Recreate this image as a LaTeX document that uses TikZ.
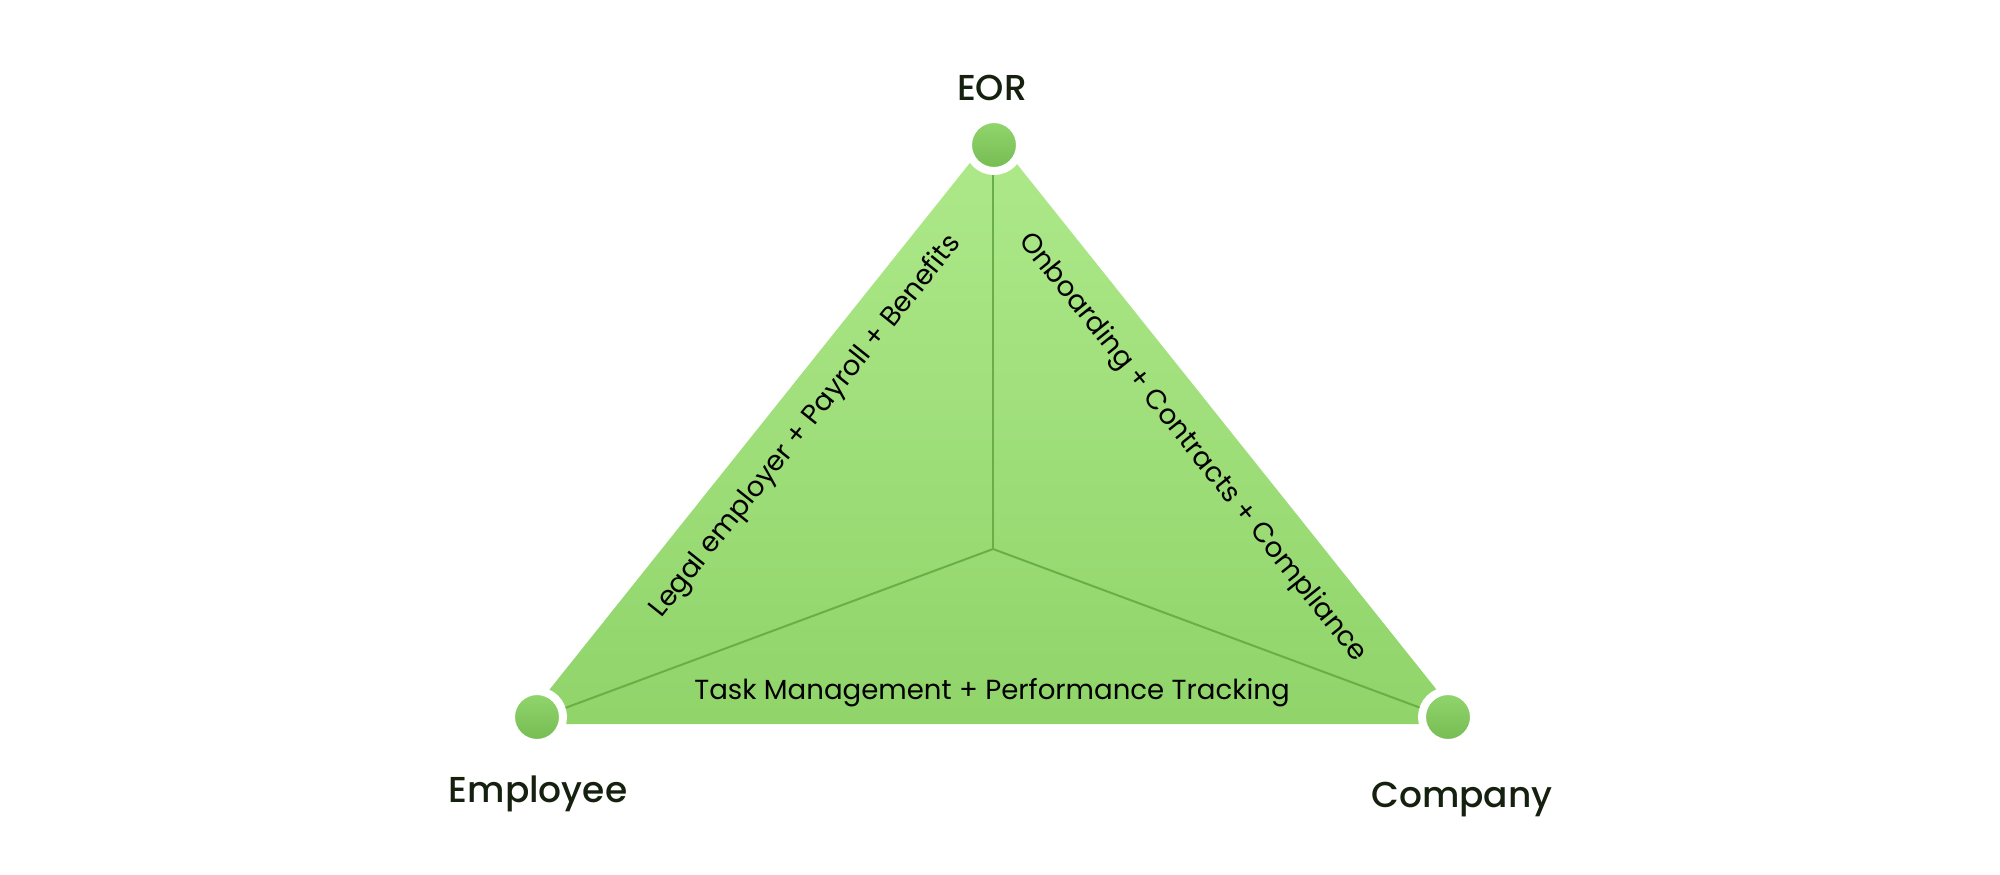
\documentclass[tikz,border=0pt]{standalone}
\usepackage{fontspec}
\setmainfont{Poppins}
\newfontfamily\titlefont{Poppins Medium}
\definecolor{leafTop}{HTML}{AEE98A}
\definecolor{leafBot}{HTML}{90D46A}
\definecolor{seam}{HTML}{6BAE47}
\definecolor{dotTop}{HTML}{92D66E}
\definecolor{dotBot}{HTML}{74BB52}
\definecolor{ink}{HTML}{15200F}
\begin{document}
\begin{tikzpicture}[x=0.5pt, y=-0.5pt,
    dot/.style={circle, minimum size=26pt, inner sep=0pt, line width=4pt,
      draw=white, top color=dotTop, bottom color=dotBot},
    corner/.style={font=\titlefont\fontsize{18}{20}\selectfont, text=ink, anchor=base},
    side/.style={font=\fontsize{13.8}{16}\selectfont, text=black, inner sep=0pt}]
    \fill[white] (0,0) rectangle (2000,874);
    \useasboundingbox (0,0) rectangle (2000,874);
    % corners of the triangle and its centre
    \coordinate (top) at (993,134);
    \coordinate (left) at (522,724);
    \coordinate (right) at (1464,724);
    \coordinate (mid) at (993,549);
    \shade[top color=leafTop, bottom color=leafBot] (top) -- (left) -- (right) -- cycle;
    \draw[seam, line width=1pt] (mid) -- (top);
    \draw[seam, line width=1pt] (mid) -- (left);
    \draw[seam, line width=1pt] (mid) -- (right);
    % parties
    \node[dot] (eor) at (994,145) {};
    \node[dot] (emp) at (537,717) {};
    \node[dot] (com) at (1448,717) {};
    \node[corner] (eorlbl) at (992,100) {EOR};
    \node[corner] (emplbl) at (538,802) {Employee};
    \node[corner] (comlbl) at (1462,807) {Company};
    % relations
    \node[side, rotate=51.4] (legal) at (806,427) {Legal employer + Payroll + Benefits};
    \node[side, rotate=-51.4] (onboard) at (1192,448) {Onboarding + Contracts + Compliance};
    \node[side, anchor=base] (task) at (992,699) {Task Management + Performance Tracking};
\end{tikzpicture}
\end{document}
